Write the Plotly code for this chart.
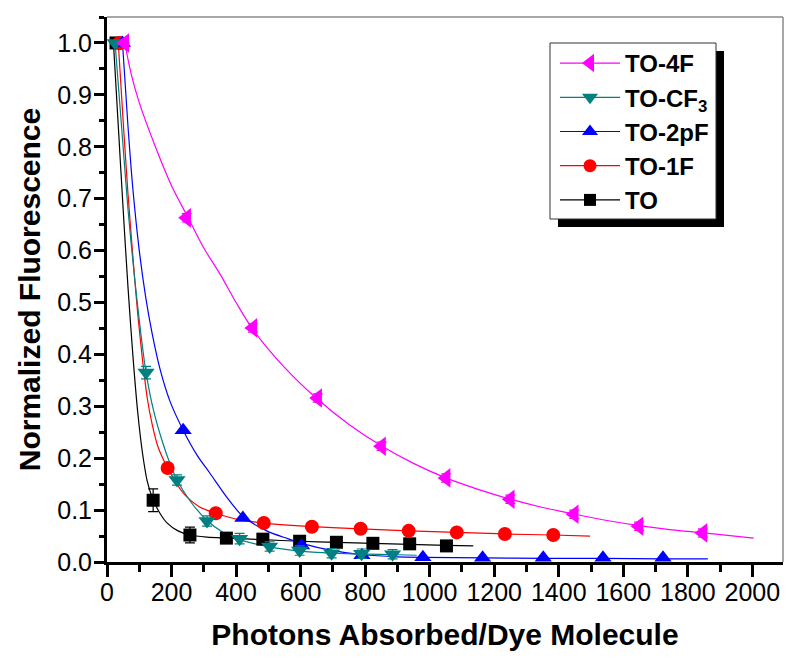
import plotly.graph_objects as go

# ---------------- data ----------------
# measured points
to_x = [28, 143, 257, 370, 483, 597, 711, 824, 938, 1052]
to_y = [1.0, 0.119, 0.052, 0.046, 0.044, 0.040, 0.038, 0.036, 0.035, 0.031]
to_err = [0.0, 0.022, 0.015, 0.009, 0.007, 0.006, 0.005, 0.005, 0.006, 0.006]

to1f_x = [38, 188, 337, 486, 635, 786, 935, 1084, 1233, 1383]
to1f_y = [1.0, 0.181, 0.094, 0.075, 0.068, 0.064, 0.060, 0.057, 0.054, 0.052]

to2pf_x = [48, 236, 421, 603, 790, 979, 1164, 1352, 1537, 1723]
to2pf_y = [1.0, 0.254, 0.085, 0.032, 0.013, 0.009, 0.008, 0.008, 0.008, 0.008]

tocf3_x = [25, 121, 217, 310, 411, 504, 597, 696, 789, 885]
tocf3_y = [1.0, 0.365, 0.158, 0.079, 0.045, 0.030, 0.022, 0.017, 0.016, 0.015]
tocf3_err = [0.0, 0.012, 0.010, 0.010, 0.010, 0.009, 0.009, 0.009, 0.009, 0.009]

to4f_x = [55, 247, 452, 653, 851, 1051, 1250, 1448, 1649, 1847]
to4f_y = [1.0, 0.663, 0.451, 0.316, 0.223, 0.162, 0.121, 0.092, 0.069, 0.056]
to4f_err = [0.0, 0.008, 0.008, 0.008, 0.008, 0.008, 0.008, 0.008, 0.008, 0.008]

# fitted decay curves
to_fit_x = [20, 35, 50, 65, 80, 95, 110, 125, 143, 165, 185, 220, 257, 310, 369,
            483, 597, 711, 824, 938, 1052, 1135]
to_fit_y = [1.0, 0.84, 0.68, 0.53, 0.40, 0.29, 0.21, 0.155, 0.12, 0.093, 0.076,
            0.060, 0.052, 0.048, 0.046, 0.043, 0.040, 0.038, 0.036, 0.034, 0.032, 0.031]

to1f_fit_x = [35, 50, 65, 80, 95, 110, 125, 140, 158, 188, 236, 287, 337, 412, 486,
              560, 635, 786, 935, 1084, 1233, 1383, 1497]
to1f_fit_y = [1.0, 0.85, 0.71, 0.59, 0.48, 0.39, 0.315, 0.265, 0.222, 0.181, 0.133,
              0.106, 0.094, 0.081, 0.075, 0.071, 0.068, 0.064, 0.060, 0.057, 0.054,
              0.052, 0.050]

to2pf_fit_x = [48, 65, 80, 100, 120, 140, 165, 195, 236, 280, 319, 371, 421, 495,
               560, 603, 700, 793, 900, 979, 1164, 1352, 1537, 1723, 1862]
to2pf_fit_y = [1.0, 0.84, 0.72, 0.60, 0.51, 0.44, 0.37, 0.31, 0.254, 0.205, 0.171,
               0.125, 0.088, 0.060, 0.045, 0.036, 0.022, 0.014, 0.010, 0.009, 0.008,
               0.007, 0.007, 0.006, 0.006]

tocf3_fit_x = [25, 45, 65, 85, 103, 121, 145, 170, 195, 217, 257, 310, 360, 411,
               504, 597, 700, 800, 900, 960]
tocf3_fit_y = [1.0, 0.84, 0.68, 0.55, 0.45, 0.365, 0.29, 0.235, 0.19, 0.158, 0.118,
               0.080, 0.057, 0.043, 0.029, 0.021, 0.017, 0.015, 0.014, 0.013]

to4f_fit_x = [55, 75, 100, 150, 200, 250, 300, 350, 400, 450, 550, 650, 750, 850,
              950, 1050, 1150, 1250, 1350, 1450, 1550, 1650, 1750, 1850, 2004]
to4f_fit_y = [1.0, 0.94, 0.885, 0.80, 0.725, 0.665, 0.605, 0.555, 0.50, 0.45, 0.375,
              0.315, 0.265, 0.224, 0.19, 0.162, 0.14, 0.121, 0.105, 0.092, 0.08,
              0.07, 0.062, 0.056, 0.046]

names = ["TO", "TO-1F", "TO-2pF", "TO-CF<sub>3</sub>", "TO-4F"]
colors = ["#000000", "#FF0000", "#0000FF", "#008080", "#FF00FF"]
symbols = ["square", "circle", "triangle-up", "triangle-down", "triangle-left"]
sizes = [13, 14, 15, 15, 17]
xs = [to_x, to1f_x, to2pf_x, tocf3_x, to4f_x]
ys = [to_y, to1f_y, to2pf_y, tocf3_y, to4f_y]
errs = [to_err, None, None, tocf3_err, to4f_err]
fxs = [to_fit_x, to1f_fit_x, to2pf_fit_x, tocf3_fit_x, to4f_fit_x]
fys = [to_fit_y, to1f_fit_y, to2pf_fit_y, tocf3_fit_y, to4f_fit_y]

FONT = "Arial, Liberation Sans, Helvetica, sans-serif"

fig = go.Figure()
for i in range(5):
    fig.add_trace(go.Scatter(
        x=fxs[i], y=fys[i], mode="lines",
        line=dict(color=colors[i], width=1.2, shape="spline", smoothing=0.8),
        showlegend=False, hoverinfo="skip"))
for i in range(5):
    ekw = {}
    if errs[i] is not None:
        ekw["error_y"] = dict(type="data", array=errs[i], visible=True,
                              color=colors[i], thickness=1.2, width=5)
    fig.add_trace(go.Scatter(
        x=xs[i], y=ys[i], mode="markers", name=names[i],
        marker=dict(symbol=symbols[i], size=sizes[i], color=colors[i],
                    line=dict(width=0)),
        showlegend=False, **ekw))
# legend entries (line + symbol)
for i in range(5):
    fig.add_trace(go.Scatter(
        x=[None], y=[None], mode="lines+markers", name=names[i],
        line=dict(color=colors[i], width=1.2),
        marker=dict(symbol=symbols[i], size=sizes[i] - 1, color=colors[i]),
        showlegend=True))

# page has an 8px body margin -> figure sits at (8, 8) in the window
OFF = 8
W, H = 800 - OFF, 665 - OFF
L, T = 107 - OFF, 17 - OFF
R, B = W - (783 - OFF), H - (562 - OFF)
pw, ph = W - L - R, H - T - B


def px(xpage):
    return (xpage - OFF - L) / pw


def py(ypage):
    return (H - B - (ypage - OFF)) / ph


fig.update_layout(
    width=W, height=H,
    margin=dict(l=L, r=R, t=T, b=B, autoexpand=False),
    paper_bgcolor="white", plot_bgcolor="white",
    font=dict(family=FONT, color="black"),
    showlegend=True,
    legend=dict(
        x=px(555), y=py(41), xanchor="left", yanchor="top",
        bgcolor="rgba(0,0,0,0)", borderwidth=0,
        traceorder="reversed",
        font=dict(family=FONT, size=24, color="black", weight="bold"),
        itemwidth=60, tracegroupgap=0),
    xaxis=dict(
        range=[0, 2095], showline=True, linecolor="black", linewidth=3,
        ticks="outside", ticklen=12, tickwidth=2.5, tickcolor="black",
        tick0=0, dtick=200, showgrid=False, zeroline=False, automargin=False,
        ticklabelstandoff=-6,
        minor=dict(ticks="outside", dtick=100, ticklen=7, tickwidth=2.5,
                   tickcolor="black", showgrid=False),
        tickfont=dict(family=FONT, size=25),
        title=dict(text="Photons Absorbed/Dye Molecule", standoff=19,
                   font=dict(family=FONT, size=30, weight="bold"))),
    yaxis=dict(
        range=[0, 1.05], showline=True, linecolor="black", linewidth=3,
        ticks="outside", ticklen=10, tickwidth=2.5, tickcolor="black",
        tick0=0, dtick=0.1, tickformat=".1f", showgrid=False, zeroline=False,
        automargin=False, ticklabelstandoff=-3,
        minor=dict(ticks="outside", dtick=0.05, ticklen=5, tickwidth=2.5,
                   tickcolor="black", showgrid=False),
        tickfont=dict(family=FONT, size=25),
        title=dict(text="Normalized Fluorescence", standoff=8,
                   font=dict(family=FONT, size=30, weight="bold"))),
    shapes=[
        # thin grey frame on top and right
        dict(type="line", xref="paper", yref="paper", x0=0, x1=1, y0=1, y1=1,
             line=dict(color="#8a8a8a", width=1.5)),
        dict(type="line", xref="paper", yref="paper", x0=1, x1=1, y0=0, y1=1,
             line=dict(color="#8a8a8a", width=1.5)),
        # legend shadow and box
        dict(type="rect", xref="paper", yref="paper",
             x0=px(558), x1=px(724), y0=py(227), y1=py(51),
             fillcolor="black", line=dict(width=0), layer="above"),
        dict(type="rect", xref="paper", yref="paper",
             x0=px(550), x1=px(716), y0=py(219), y1=py(43),
             fillcolor="white", line=dict(color="#333333", width=1), layer="above"),
    ],
)

fig.write_html("out.html")
